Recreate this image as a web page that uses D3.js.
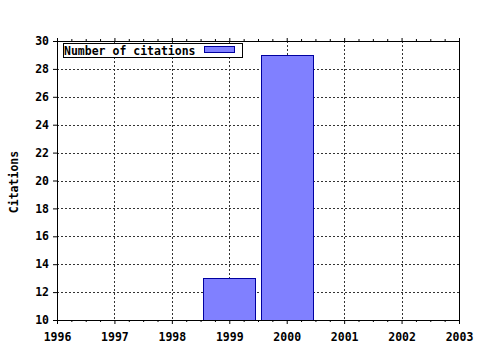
<!DOCTYPE html>
<html>
<head>
<meta charset="utf-8">
<script src="https://cdn.jsdelivr.net/npm/d3@7"></script>
<style>
  body { margin: 0; background: #fff; }
  text { font-family: "DejaVu Sans Mono", monospace; font-weight: bold; font-size: 11.5px; fill: #000; }
</style>
</head>
<body>
<svg id="chart"></svg>
<script>
// data
var years = [1999, 2000];
var citations = [13, 29];
var xTickYears = [1996, 1997, 1998, 1999, 2000, 2001, 2002, 2003];
var yTickValues = [10, 12, 14, 16, 18, 20, 22, 24, 26, 28, 30];
var seriesName = "Number of citations";
var yTitle = "Citations";

var svgWidth = 480, svgHeight = 350;
var plotLeft = 57, plotRight = 459, plotTop = 41, plotBottom = 320;

var svg = d3.select('#chart')
  .attr("width", svgWidth)
  .attr("height", svgHeight);

var x = d3.scaleLinear().domain([1996, 2003]).range([plotLeft, plotRight]);
var y = d3.scaleLinear().domain([10, 30]).range([plotBottom, plotTop]);

// minor ticks every quarter year
var minorTicks = d3.range(1996, 2003.01, 0.25).filter(d => d % 1 !== 0);

var snap = v => Math.round(v) + 0.5;

// grid lines (dotted)
var grid = svg.append("g").attr("stroke", "#333").attr("stroke-dasharray", "2,2").attr("shape-rendering", "crispEdges");
grid.selectAll(".gy")
  .data(yTickValues.slice(1, -1))
  .enter()
  .append("line")
  .attr("x1", plotLeft).attr("x2", plotRight)
  .attr("y1", d => snap(y(d))).attr("y2", d => snap(y(d)));
grid.selectAll(".gx")
  .data(xTickYears.slice(1, -1))
  .enter()
  .append("line")
  .attr("y1", plotTop).attr("y2", plotBottom)
  .attr("x1", d => snap(x(d))).attr("x2", d => snap(x(d)));

// bars
svg.selectAll("rect.bar")
  .data(years)
  .enter()
  .append("rect")
  .attr("class", "bar")
  .attr("x", d => Math.round(x(d - 0.45)) + 0.5)
  .attr("width", d => Math.round(x(d + 0.45)) - Math.round(x(d - 0.45)))
  .attr("y", (d, i) => Math.round(y(citations[i])) + 0.5)
  .attr("height", (d, i) => plotBottom - Math.round(y(citations[i])))
  .attr("fill", "#8080ff")
  .attr("stroke", "#0000a0")
  .attr("stroke-width", 1);

// frame lines (top and right)
svg.append("line").attr("x1", plotLeft).attr("x2", plotRight + 0.5).attr("y1", plotTop + 0.5).attr("y2", plotTop + 0.5).attr("stroke", "#000");
svg.append("line").attr("x1", plotRight + 0.5).attr("x2", plotRight + 0.5).attr("y1", plotTop).attr("y2", plotBottom + 0.5).attr("stroke", "#000");

// bottom axis
svg.append("g")
  .attr("transform", `translate(0,${plotBottom})`)
  .call(d3.axisBottom(x).tickValues(xTickYears).tickFormat(d3.format("d")).tickSizeInner(4).tickSizeOuter(0).tickPadding(9));
svg.append("g")
  .attr("transform", `translate(0,${plotBottom})`)
  .call(d3.axisBottom(x).tickValues(minorTicks).tickFormat("").tickSizeInner(2).tickSizeOuter(0))
  .select(".domain").remove();

// top axis ticks
svg.append("g")
  .attr("transform", `translate(0,${plotTop})`)
  .call(d3.axisTop(x).tickValues(xTickYears).tickFormat("").tickSizeInner(3).tickSizeOuter(0));
svg.append("g")
  .attr("transform", `translate(0,${plotTop})`)
  .call(d3.axisTop(x).tickValues(minorTicks).tickFormat("").tickSizeInner(2).tickSizeOuter(0))
  .select(".domain").remove();

// left axis
svg.append("g")
  .attr("transform", `translate(${plotLeft},0)`)
  .call(d3.axisLeft(y).tickValues(yTickValues).tickFormat(d3.format("d")).tickSizeInner(4).tickSizeOuter(0).tickPadding(4));

svg.selectAll(".tick text").style("font-family", '"DejaVu Sans Mono", monospace').style("font-weight", "bold").style("font-size", "11.5px");
svg.selectAll(".domain, .tick line").attr("stroke", "#000");

// y axis title
svg.append("text")
  .attr("transform", "translate(18,182) rotate(-90)")
  .attr("text-anchor", "middle")
  .text(yTitle);

// legend
var legend = svg.append("g");
legend.append("rect")
  .attr("x", 63.5).attr("y", 43.5)
  .attr("width", 179).attr("height", 14)
  .attr("fill", "#fff").attr("stroke", "#000");
legend.append("text")
  .attr("x", 64).attr("y", 54.5)
  .text(seriesName);
legend.append("rect")
  .attr("x", 204.5).attr("y", 46.5)
  .attr("width", 30).attr("height", 6)
  .attr("fill", "#8080ff").attr("stroke", "#0000a0");
</script>
</body>
</html>
